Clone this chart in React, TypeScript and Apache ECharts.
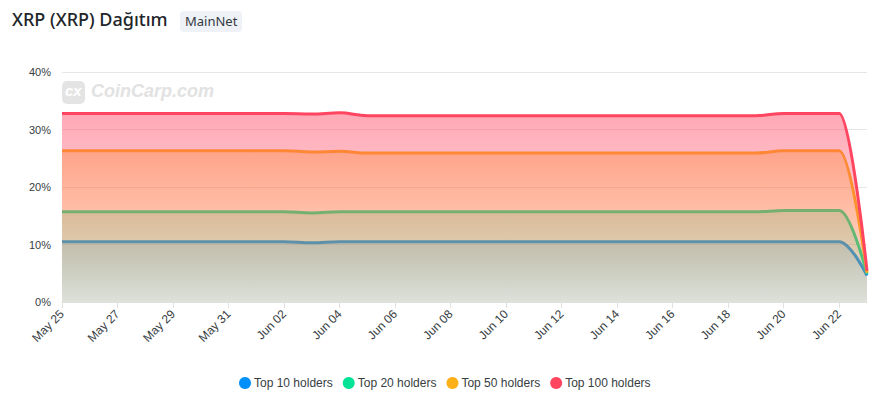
import React, { useEffect, useRef } from "react";
import * as echarts from "echarts";

const dates = [
  "May 25", "May 26", "May 27", "May 28", "May 29", "May 30", "May 31",
  "Jun 01", "Jun 02", "Jun 03", "Jun 04", "Jun 05", "Jun 06", "Jun 07",
  "Jun 08", "Jun 09", "Jun 10", "Jun 11", "Jun 12", "Jun 13", "Jun 14",
  "Jun 15", "Jun 16", "Jun 17", "Jun 18", "Jun 19", "Jun 20", "Jun 21",
  "Jun 22", "Jun 23",
];

const top10 = [
  10.5, 10.5, 10.5, 10.5, 10.5, 10.5, 10.5, 10.5, 10.5, 10.3, 10.5, 10.5,
  10.5, 10.5, 10.5, 10.5, 10.5, 10.5, 10.5, 10.5, 10.5, 10.5, 10.5, 10.5,
  10.5, 10.5, 10.5, 10.5, 10.5, 4.6,
];
const top20 = [
  15.7, 15.7, 15.7, 15.7, 15.7, 15.7, 15.7, 15.7, 15.7, 15.5, 15.7, 15.7,
  15.7, 15.7, 15.7, 15.7, 15.7, 15.7, 15.7, 15.7, 15.7, 15.7, 15.7, 15.7,
  15.7, 15.7, 15.9, 15.9, 15.9, 4.9,
];
const top50 = [
  26.3, 26.3, 26.3, 26.3, 26.3, 26.3, 26.3, 26.3, 26.3, 26.1, 26.2, 25.9,
  25.9, 25.9, 25.9, 25.9, 25.9, 25.9, 25.9, 25.9, 25.9, 25.9, 25.9, 25.9,
  25.9, 25.9, 26.3, 26.3, 26.3, 5.1,
];
const top100 = [
  32.8, 32.8, 32.8, 32.8, 32.8, 32.8, 32.8, 32.8, 32.8, 32.7, 32.9, 32.4,
  32.4, 32.4, 32.4, 32.4, 32.4, 32.4, 32.4, 32.4, 32.4, 32.4, 32.4, 32.4,
  32.4, 32.4, 32.8, 32.8, 32.8, 5.4,
];

const seriesNames = ["Top 10 holders", "Top 20 holders", "Top 50 holders", "Top 100 holders"];
const seriesData = [top10, top20, top50, top100];
const colors = ["#008FFB", "#00E396", "#FEB019", "#FF4560"];
const yTicks = [0, 10, 20, 30, 40];

function rgba(hex: string, a: number) {
  const r = parseInt(hex.slice(1, 3), 16);
  const g = parseInt(hex.slice(3, 5), 16);
  const b = parseInt(hex.slice(5, 7), 16);
  return `rgba(${r},${g},${b},${a})`;
}

export default function App() {
  const ref = useRef<HTMLDivElement>(null);
  useEffect(() => {
    if (!ref.current) return;
    const chart = echarts.init(ref.current, null, { renderer: "svg" });
    const font = "'Liberation Sans', Arial, sans-serif";
    const gridTop = 72;
    const gridBottomPx = 302;
    chart.setOption({
      animation: false,
      color: colors,
      textStyle: { fontFamily: font },
      graphic: [
        {
          type: "text",
          left: 12,
          top: 10,
          style: {
            text: "XRP (XRP) Dağıtım",
            font: "500 18px 'Noto Sans', 'Open Sans', sans-serif",
            fill: "#212529",
          },
        },
        {
          type: "rect",
          left: 180,
          top: 11,
          shape: { width: 62, height: 21, r: 4 },
          style: { fill: "#eef1f6" },
        },
        {
          type: "text",
          left: 185,
          top: 14,
          style: {
            text: "MainNet",
            font: "13px 'Noto Sans', 'Open Sans', sans-serif",
            fill: "#333a44",
          },
        },
        {
          type: "rect",
          left: 62,
          top: 81,
          shape: { width: 23, height: 23, r: 5 },
          style: { fill: "#e4e4e4" },
          z: 0,
        },
        {
          type: "text",
          left: 65,
          top: 83,
          style: {
            text: "cx",
            font: "bold italic 15px 'Liberation Sans', Arial, sans-serif",
            fill: "#ffffff",
          },
          z: 0,
        },
        {
          type: "text",
          left: 91,
          top: 82,
          style: {
            text: "CoinCarp.com",
            font: "bold italic 18px 'Liberation Sans', Arial, sans-serif",
            fill: "#e2e2e2",
          },
          z: 0,
        },
      ],
      legend: {
        data: seriesNames,
        left: 239,
        top: 377,
        padding: 0,
        icon: "circle",
        itemWidth: 12,
        itemHeight: 12,
        itemGap: 10,
        textStyle: { fontSize: 12, color: "#373d3f", fontFamily: font, padding: [0, 0, 0, -2] },
      },
      grid: { left: 62, right: 7, top: gridTop, bottom: 406 - gridBottomPx, containLabel: false },
      xAxis: {
        type: "category",
        data: dates,
        boundaryGap: false,
        axisLine: { lineStyle: { color: "#e0e0e0" } },
        axisTick: { show: true, interval: 1, length: 6, lineStyle: { color: "#e0e0e0" } },
        axisLabel: {
          interval: 1,
          rotate: 45,
          fontSize: 12,
          color: "#373d3f",
          fontFamily: font,
          margin: 10,
        },
        splitLine: { show: false },
      },
      yAxis: {
        type: "value",
        min: 0,
        max: 40,
        interval: 10,
        axisLine: { show: false },
        axisTick: { show: false },
        axisLabel: {
          formatter: (v: number) => (yTicks.includes(v) ? `${v}%` : ""),
          fontSize: 11,
          color: "#373d3f",
          fontFamily: font,
          margin: 11,
        },
        splitLine: { lineStyle: { color: "#e6e6e6" } },
      },
      series: seriesNames.map((name, i) => ({
        name,
        type: "line",
        z: 2 + i,
        data: seriesData[i],
        smooth: 0.4,
        smoothMonotone: "x",
        showSymbol: false,
        symbol: "none",
        lineStyle: { width: 3, color: colors[i] },
        itemStyle: { color: colors[i] },
        areaStyle: {
          opacity: 1,
          color: {
            type: "linear",
            global: true,
            x: 0,
            y: gridTop,
            x2: 0,
            y2: gridBottomPx,
            colorStops: [
              { offset: 0, color: rgba(colors[i], 0.55) },
              { offset: 1, color: rgba(colors[i], 0.08) },
            ],
          },
        },
      })),
    });
    return () => chart.dispose();
  }, []);
  return (
    <div
      ref={ref}
      style={{ position: "fixed", left: 0, top: 0, width: 874, height: 406, background: "#fff" }}
    />
  );
}
